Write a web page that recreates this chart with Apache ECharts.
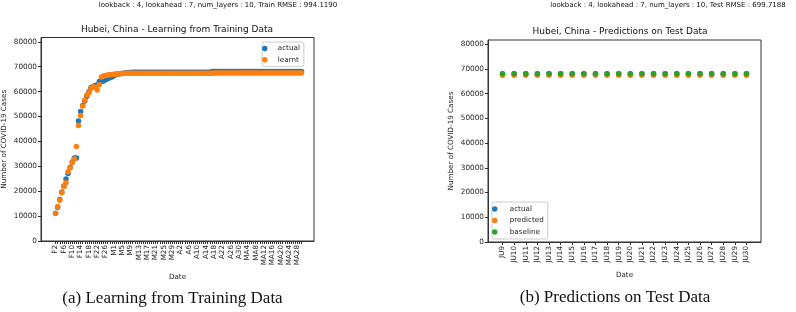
<!DOCTYPE html>
<html>
<head>
<meta charset="utf-8">
<script src="https://cdn.jsdelivr.net/npm/echarts@6/dist/echarts.min.js"></script>
<style>
  html, body { margin: 0; padding: 0; background: #fff; }
  #chart { width: 796px; height: 312px; }
</style>
</head>
<body>
<div id="chart"></div>
<script>
// training window, one value per day from F2 (index 0) to MA30 (index 118)
var trainTickLabels = ['F2','F6','F10','F14','F18','F22','F26','M1','M5','M9','M13','M17','M21','M25','M29',
    'A2','A6','A10','A14','A18','A22','A26','A30','MA4','MA8','MA12','MA16','MA20','MA24','MA28'];
var trainActual = [
    11177, 13522, 16678, 19665, 22112, 24953, 27100, 29631, 31728, 33366,
    33366, 48206, 51986, 54406, 56249, 58182, 59989, 61682, 62031, 62442,
    62662, 64084, 64084, 64287, 64786, 65187, 65596, 65914, 66337, 66907,
    67103, 67217, 67332, 67466, 67592, 67666, 67707, 67743, 67760, 67773,
    67781, 67786, 67790, 67794, 67798, 67799, 67800, 67800, 67800, 67800,
    67800, 67801, 67801, 67801, 67801, 67801, 67801, 67801, 67801, 67802,
    67802, 67802, 67802, 67802, 67802, 67802, 67803, 67803, 67803, 67803,
    67803, 67803, 67803, 67803, 67803, 68128, 68128, 68128, 68128, 68128,
    68128, 68128, 68128, 68128, 68128, 68128, 68128, 68128, 68128, 68128,
    68128, 68128, 68128, 68128, 68128, 68128, 68128, 68128, 68128, 68128,
    68128, 68128, 68134, 68134, 68134, 68134, 68134, 68134, 68134, 68134,
    68134, 68134, 68134, 68134, 68134, 68134, 68134, 68134, 68134
];
var trainLearnt = [
    11000, 13900, 16400, 19400, 21900, 23400, 27800, 29400, 31500, 32900,
    38000, 46400, 50400, 54200, 56500, 58700, 59600, 61400, 62000, 61800,
    60700, 62800, 65900, 66300, 66500, 66700, 66800, 66900, 67000, 67100,
    67200, 67250, 67300, 67350, 67350, 67350, 67350, 67350, 67350, 67350,
    67350, 67350, 67350, 67350, 67350, 67350, 67350, 67350, 67350, 67350,
    67350, 67350, 67350, 67350, 67350, 67350, 67350, 67350, 67350, 67350,
    67350, 67350, 67350, 67350, 67350, 67350, 67350, 67350, 67350, 67350,
    67350, 67350, 67350, 67350, 67350, 67400, 67450, 67450, 67450, 67450,
    67450, 67450, 67450, 67450, 67450, 67450, 67450, 67450, 67450, 67450,
    67450, 67450, 67450, 67450, 67450, 67450, 67450, 67450, 67450, 67450,
    67450, 67450, 67450, 67450, 67450, 67450, 67450, 67450, 67450, 67450,
    67450, 67450, 67450, 67450, 67450, 67450, 67450, 67450, 67450
];

// test window
var testLabels = ['JU9','JU10','JU11','JU12','JU13','JU14','JU15','JU16','JU17','JU18','JU19',
    'JU20','JU21','JU22','JU23','JU24','JU25','JU26','JU27','JU28','JU29','JU30'];
var testActual = [68135, 68135, 68135, 68135, 68135, 68135, 68135, 68135, 68135, 68135, 68135,
    68135, 68135, 68135, 68135, 68135, 68135, 68135, 68135, 68135, 68135, 68135];
var testPredicted = [67500, 67500, 67500, 67500, 67500, 67500, 67500, 67500, 67500, 67500, 67500,
    67500, 67500, 67500, 67500, 67500, 67500, 67500, 67500, 67500, 67500, 67500];
var testBaseline = [68135, 68135, 68135, 68135, 68135, 68135, 68135, 68135, 68135, 68135, 68135,
    68135, 68135, 68135, 68135, 68135, 68135, 68135, 68135, 68135, 68135, 68135];

var yTicks = [0, 10000, 20000, 30000, 40000, 50000, 60000, 70000, 80000];

var FONT = 'DejaVu Sans';
var INK = '#262626';

function pts(arr) {
    return arr.map(function (v, i) { return [i, v]; });
}
function range(n, step) {
    var out = [];
    for (var i = 0; i < n; i += step) out.push(i);
    return out;
}

var trainTickPos = trainTickLabels.map(function (s, k) { return k * 4; });

function xAxisCfg(grid, min, max, tickVals, labelVals, fmt) {
    return {
        type: 'value', gridIndex: grid, min: min, max: max,
        name: 'Date', nameLocation: 'middle', nameGap: 30,
        nameTextStyle: { fontFamily: FONT, fontSize: 7.2, color: INK },
        axisLine: { show: true, onZero: false, lineStyle: { color: '#333', width: 1 } },
        axisTick: { show: true, length: 3, lineStyle: { color: '#333' }, customValues: tickVals },
        axisLabel: { rotate: 90, margin: 4, fontFamily: FONT, fontSize: 7.2, color: INK,
            customValues: labelVals, formatter: fmt },
        splitLine: { show: false }
    };
}
function yAxisCfg(grid) {
    return {
        type: 'value', gridIndex: grid, min: 0, max: 81750,
        name: 'Number of COVID-19 Cases', nameLocation: 'middle', nameGap: 33,
        nameTextStyle: { fontFamily: FONT, fontSize: 7.2, color: INK },
        axisLine: { show: true, onZero: false, lineStyle: { color: '#333', width: 1 } },
        axisTick: { show: true, length: 3, lineStyle: { color: '#333' }, customValues: yTicks },
        axisLabel: { margin: 4, fontFamily: FONT, fontSize: 7.3, color: INK, customValues: yTicks,
            formatter: function (v) { return String(v); } },
        splitLine: { show: false }
    };
}
function scatter(name, data, color, xi) {
    return {
        name: name, type: 'scatter', xAxisIndex: xi, yAxisIndex: xi,
        data: pts(data), symbolSize: 5.5,
        itemStyle: { color: color, opacity: 1 },
        emphasis: { disabled: true }
    };
}
function txt(x, y, s, size, family) {
    return {
        type: 'text', x: x, y: y,
        style: { text: s, fontFamily: family || FONT, fontSize: size, fill: '#111',
            align: 'center', verticalAlign: 'middle' }
    };
}

var chart = echarts.init(document.getElementById('chart'));
var option = {
    backgroundColor: '#fff',
    animation: false,
    grid: [
        { left: 41, top: 37.5, width: 273, height: 203.5, show: true, borderColor: '#333', borderWidth: 1 },
        { left: 488, top: 40, width: 273, height: 202, show: true, borderColor: '#333', borderWidth: 1 }
    ],
    xAxis: [
        xAxisCfg(0, -7, 124, range(trainActual.length, 1), trainTickPos,
            function (v) { return trainTickLabels[Math.round(v / 4)]; }),
        xAxisCfg(1, -1.25, 22.25, range(testLabels.length, 1), range(testLabels.length, 1),
            function (v) { return testLabels[Math.round(v)]; })
    ],
    yAxis: [yAxisCfg(0), yAxisCfg(1)],
    legend: [
        {
            data: ['actual', 'learnt'], orient: 'vertical', left: 262, top: 42,
            icon: 'circle', itemWidth: 16, itemHeight: 5.5, itemGap: 2.3,
            padding: [2, 4, 2, 0], selectedMode: false,
            backgroundColor: 'rgba(255,255,255,0.85)', borderColor: '#ccc', borderWidth: 1, borderRadius: 2,
            textStyle: { fontFamily: FONT, fontSize: 7.2, color: INK, lineHeight: 9 }
        },
        {
            data: ['actual', 'predicted', 'baseline'], orient: 'vertical', left: 492, top: 202,
            icon: 'circle', itemWidth: 20, itemHeight: 5.5, itemGap: 2.5,
            padding: [2.5, 4, 2.5, 0], selectedMode: false,
            backgroundColor: 'rgba(255,255,255,0.85)', borderColor: '#ccc', borderWidth: 1, borderRadius: 2,
            textStyle: { fontFamily: FONT, fontSize: 7.2, color: INK, lineHeight: 9 }
        }
    ],
    series: [
        scatter('actual', trainActual, '#1f77b4', 0),
        scatter('learnt', trainLearnt, '#ff7f0e', 0),
        scatter('actual', testActual, '#1f77b4', 1),
        scatter('predicted', testPredicted, '#ff7f0e', 1),
        scatter('baseline', testBaseline, '#2ca02c', 1)
    ],
    graphic: [
        txt(218, 5, 'lookback : 4, lookahead : 7, num_layers : 10, Train RMSE : 994.1190', 7),
        txt(668, 5, 'lookback : 4, lookahead : 7, num_layers : 10, Test RMSE : 699.7188', 7),
        txt(177, 29.5, 'Hubei, China - Learning from Training Data', 9),
        txt(620, 31.5, 'Hubei, China - Predictions on Test Data', 9),
        txt(172.5, 299, '(a) Learning from Training Data', 17, 'Liberation Serif'),
        txt(615, 298, '(b) Predictions on Test Data', 17, 'Liberation Serif')
    ]
};
chart.setOption(option);
</script>
</body>
</html>
